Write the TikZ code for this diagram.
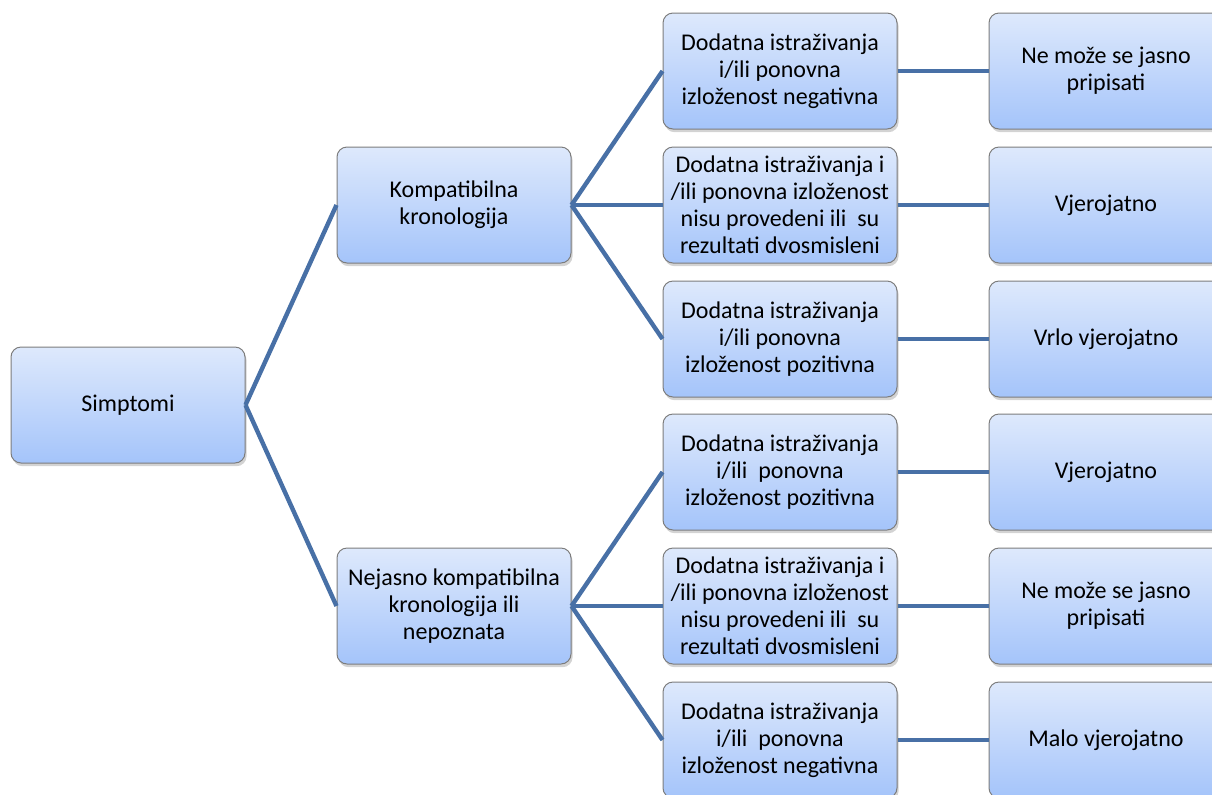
\documentclass[tikz,border=0pt]{standalone}
\usepackage{fontspec}
\setmainfont{Carlito}
\usetikzlibrary{shadows}
\definecolor{linkblue}{RGB}{72,112,166}
\definecolor{boxtop}{RGB}{222,233,252}
\definecolor{boxbottom}{RGB}{164,196,250}
\definecolor{boxedge}{RGB}{125,125,125}
\tikzset{
  stepbox/.style={draw=boxedge, line width=0.5pt, rounded corners=5pt,
    top color=boxtop, bottom color=boxbottom,
    minimum width=117pt, minimum height=58pt, inner sep=1pt,
    align=center, font=\fontsize{12}{13.5}\selectfont,
    drop shadow={shadow xshift=0.8pt, shadow yshift=-1.6pt, opacity=0.35}},
  link/.style={linkblue, line width=2.2pt}
}
\begin{document}
\begin{tikzpicture}[x=0.5pt, y=-0.5pt]
\useasboundingbox (0,0) rectangle (1212,794);
% root
\node[stepbox] (simp) at (128,405) {Simptomi};
% chronology
\node[stepbox] (komp) at (454,205) {Kompatibilna\\kronologija};
\node[stepbox] (nejas) at (454,606) {Nejasno kompatibilna\\kronologija ili\\nepoznata};
% tests
\node[stepbox] (kneg) at (780,71) {Dodatna istraživanja\\i/ili ponovna\\izloženost negativna};
\node[stepbox] (kdvo) at (780,205) {Dodatna istraživanja i\\/ili ponovna izloženost\\nisu provedeni ili\ \ su\\rezultati dvosmisleni};
\node[stepbox] (kpoz) at (780,339) {Dodatna istraživanja\\i/ili ponovna\\izloženost pozitivna};
\node[stepbox] (npoz) at (780,472) {Dodatna istraživanja\\i/ili\ \ ponovna\\izloženost pozitivna};
\node[stepbox] (ndvo) at (780,606) {Dodatna istraživanja i\\/ili ponovna izloženost\\nisu provedeni ili\ \ su\\rezultati dvosmisleni};
\node[stepbox] (nneg) at (780,740) {Dodatna istraživanja\\i/ili\ \ ponovna\\izloženost negativna};
% outcomes
\node[stepbox] (r1) at (1106,71) {Ne može se jasno\\pripisati};
\node[stepbox] (r2) at (1106,205) {Vjerojatno};
\node[stepbox] (r3) at (1106,339) {Vrlo vjerojatno};
\node[stepbox] (r4) at (1106,472) {Vjerojatno};
\node[stepbox] (r5) at (1106,606) {Ne može se jasno\\pripisati};
\node[stepbox] (r6) at (1106,740) {Malo vjerojatno};
% connectors
\draw[link] (simp.east) -- (komp.west);
\draw[link] (simp.east) -- (nejas.west);
\foreach \t in {kneg,kdvo,kpoz}
  \draw[link] (komp.east) -- (\t.west);
\foreach \t in {npoz,ndvo,nneg}
  \draw[link] (nejas.east) -- (\t.west);
\foreach \a/\b in {kneg/r1,kdvo/r2,kpoz/r3,npoz/r4,ndvo/r5,nneg/r6}
  \draw[link] (\a.east) -- (\b.west);
\end{tikzpicture}
\end{document}
